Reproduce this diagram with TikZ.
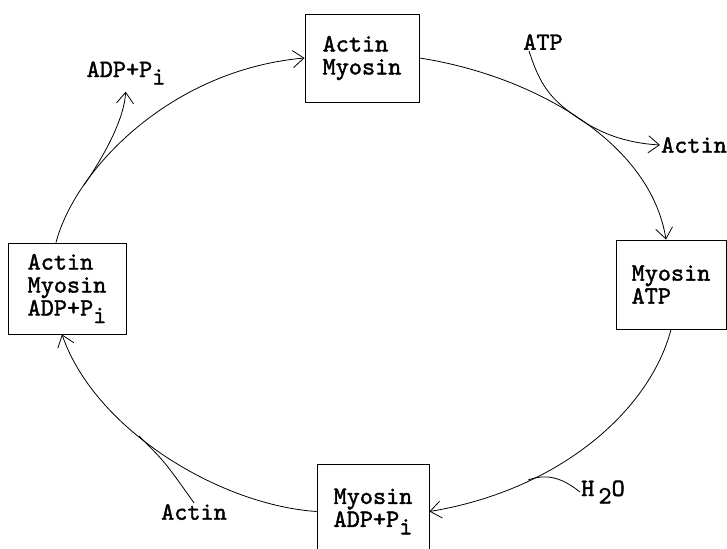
\documentclass[tikz,border=0pt]{standalone}
\usepackage{fontspec}
\usepackage{tikz}
\usetikzlibrary{arrows.meta}
\newfontfamily\cycletype{lmmono10-regular.otf}[FakeBold=1.6]
\newcommand{\cyclefont}{\cycletype\fontsize{25}{23}\selectfont}
\newcommand{\low}[1]{\raisebox{-0.3em}{#1}}
\tikzset{
  cbox/.style={draw, line width=0.9pt, align=left, inner sep=0pt, font=\cyclefont},
  lbl/.style={font=\cyclefont, inner sep=1pt},
  arr/.style={-{Straight Barb[length=11pt, width=17pt]}, line width=0.8pt},
  feed/.style={line width=0.8pt},
}

\begin{document}
\begin{tikzpicture}[x=1pt, y=-1pt]
\useasboundingbox (0,0) rectangle (727,548);
% the four states of the cycle
\node[cbox, minimum width=114pt, minimum height=88pt] (am) at (362,58) {Actin\\Myosin};
\node[cbox, minimum width=110pt, minimum height=89pt] (ma) at (671,284.5) {Myosin\\ATP};
\node[cbox, minimum width=112pt, minimum height=95pt] (madp) at (373,511.5) {Myosin\\ADP+P\low{i}};
\node[cbox, minimum width=118pt, minimum height=91pt] (amadp) at (67,288.5) {Actin\\Myosin\\ADP+P\low{i}};
% what goes in and out
\node[lbl] (atp) at (543,42) {ATP};
\node[lbl, anchor=west] (actout) at (660,145) {Actin};
\node[lbl, anchor=west] (h2o) at (580,492) {H\,\low{2}O};
\node[lbl] (actin) at (194,512) {Actin};
\node[lbl] (adp) at (126,73) {ADP+P\low{i}};
\coordinate (h2ojoin) at (528,480);
\coordinate (actjoin) at (139,436);
\coordinate (adpsplit) at (84,185);
% main cycle
\draw[arr] (am.east) .. controls (530,75) and (650,140) .. ([xshift=-5pt]ma.north);
\draw[arr] (ma.south) .. controls (650,410) and (560,490) .. (madp.east);
\draw[arr] (madp.west) .. controls (220,505) and (95,430) .. ([xshift=-5pt]amadp.south);
\draw[arr] ([xshift=-11pt]amadp.north) .. controls (75,170) and (170,70) .. (am.west);
% side branches
\draw[arr] ([xshift=-14pt]atp.south) .. controls (540,85) and (550,99) .. (578,118)
  .. controls (600,133) and (625,143) .. (actout.west);
\draw[feed] (h2o.west) .. controls (560,476) and (545,474) .. (h2ojoin);
\draw[feed] (actin.north) .. controls (165,462) .. (actjoin);
\draw[arr, shorten >=6pt] (adpsplit) .. controls (100,162) and (124,122) .. (adp.south);
\end{tikzpicture}
\end{document}
